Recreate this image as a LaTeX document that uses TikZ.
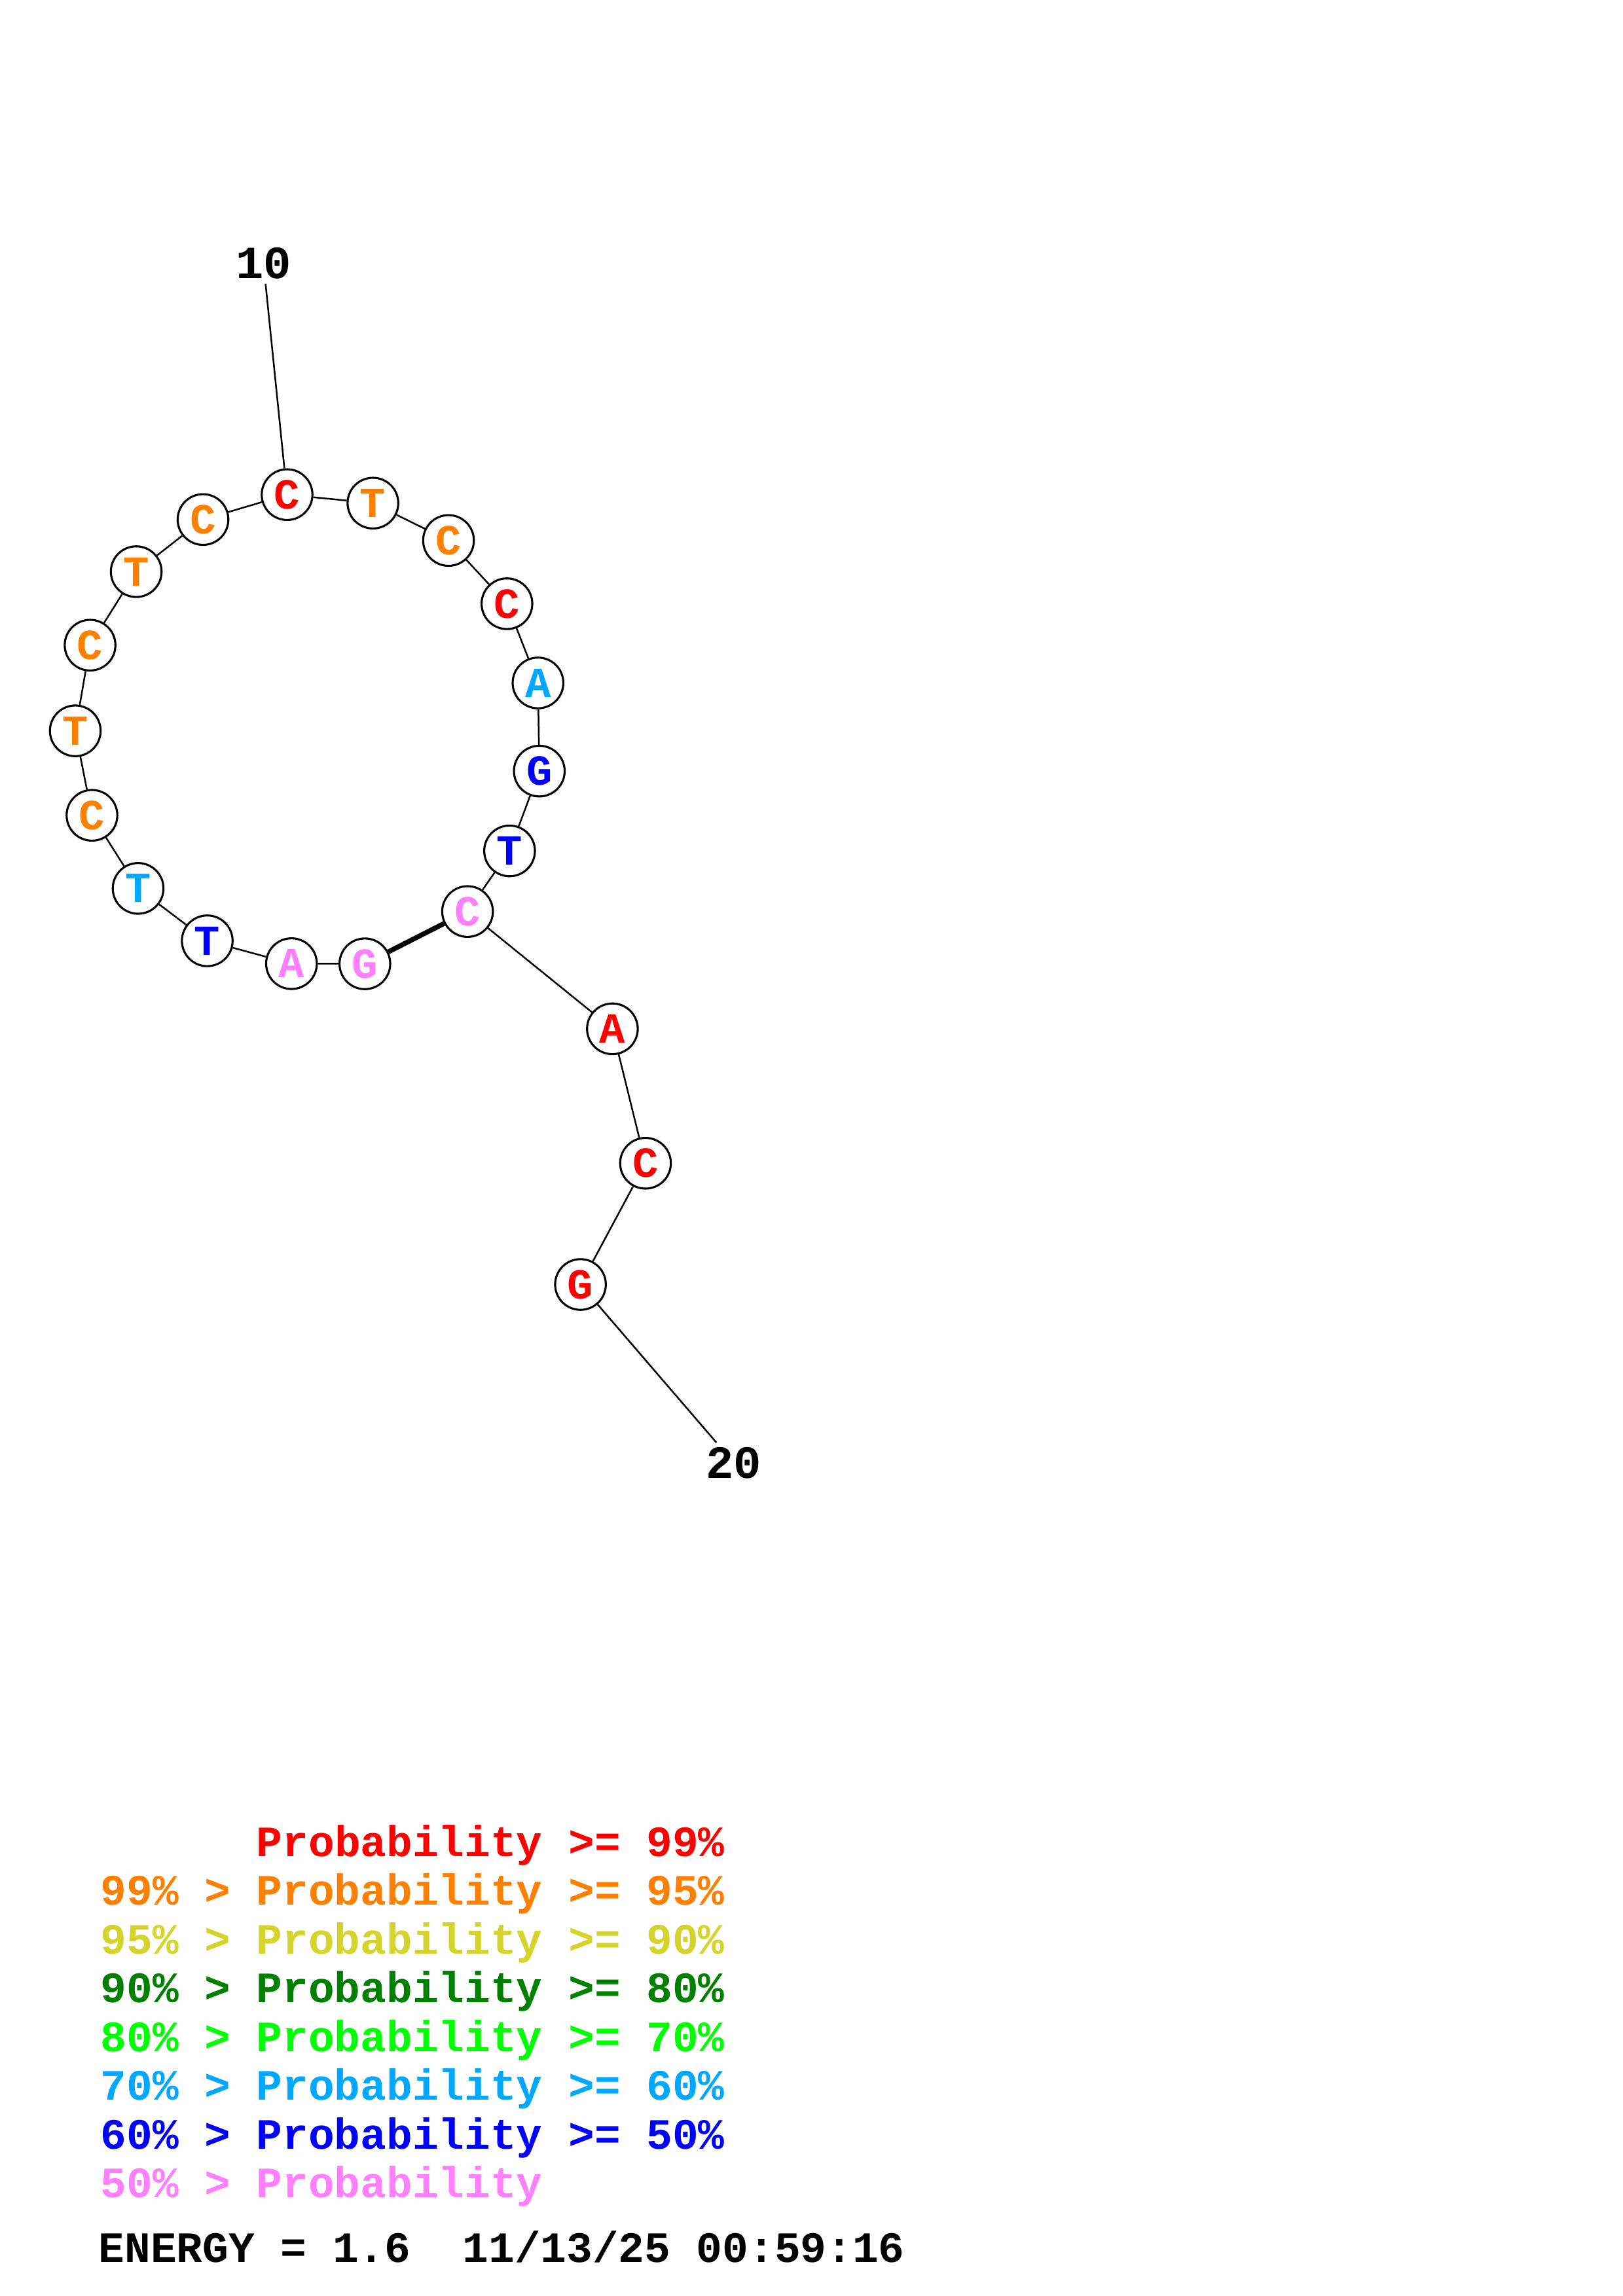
\documentclass[tikz,border=0pt]{standalone}
\usepackage{fontspec}
\setmonofont{Liberation Mono}
\usepackage{xcolor}
\usepackage{tikz}
\definecolor{PRed}{HTML}{FF0000}
\definecolor{POrange}{HTML}{FF8000}
\definecolor{PYellow}{HTML}{D4D42C}
\definecolor{PDkGreen}{HTML}{008000}
\definecolor{PGreen}{HTML}{00FF00}
\definecolor{PSky}{HTML}{00A8FF}
\definecolor{PBlue}{HTML}{0000FF}
\definecolor{PPink}{HTML}{FF80FF}
\begin{document}
\begin{tikzpicture}[x=0.018953cm, y=-0.018953cm,
  every node/.style={font=\ttfamily\bfseries\fontsize{15.8}{18}\selectfont},
  nt/.style={circle, draw=black, fill=white, line width=0.75pt,
             minimum size=0.656cm, inner sep=0pt},
  bone/.style={draw=black, line width=0.6pt},
  pair/.style={draw=black, line width=1.8pt},
  tick/.style={text=black, inner sep=1.5pt, font=\ttfamily\bfseries\fontsize{17}{19}\selectfont},
  legend/.style={anchor=base west, inner sep=0pt, font=\ttfamily\bfseries\fontsize{15.95}{18}\selectfont}]
\useasboundingbox (0,0) rectangle (1108,1568);
% bases, 5' to 3'
\node[nt, text=PPink]   (b1)  at (249.1,658.2) {G};
\node[nt, text=PPink]   (b2)  at (199.0,658.1) {A};
\node[nt, text=PBlue]   (b3)  at (141.5,642.5) {T};
\node[nt, text=PSky]    (b4)  at ( 94.3,606.7) {T};
\node[nt, text=POrange] (b5)  at ( 62.8,556.8) {C};
\node[nt, text=POrange] (b6)  at ( 51.4,499.1) {T};
\node[nt, text=POrange] (b7)  at ( 61.5,440.6) {C};
\node[nt, text=POrange] (b8)  at ( 93.0,390.4) {T};
\node[nt, text=POrange] (b9)  at (138.6,354.8) {C};
\node[nt, text=PRed]    (b10) at (196.0,337.8) {C};
\node[nt, text=POrange] (b11) at (254.6,343.6) {T};
\node[nt, text=POrange] (b12) at (306.2,369.1) {C};
\node[nt, text=PRed]    (b13) at (346.1,412.3) {C};
\node[nt, text=PSky]    (b14) at (367.3,466.4) {A};
\node[nt, text=PBlue]   (b15) at (368.2,526.6) {G};
\node[nt, text=PBlue]   (b16) at (347.9,581.1) {T};
\node[nt, text=PPink]   (b17) at (319.2,622.5) {C};
\node[nt, text=PRed]    (b18) at (418.1,702.6) {A};
\node[nt, text=PRed]    (b19) at (440.7,794.4) {C};
\node[nt, text=PRed]    (b20) at (396.3,877.2) {G};
% backbone and pair
\foreach \i [evaluate=\i as \j using int(\i+1)] in {1,...,19} {\draw[bone] (b\i) -- (b\j);}
\draw[pair] (b1) -- (b17);
% numbering
\node[tick] (t10) at (179.9,180.0) {10};
\node[tick] (t20) at (501.0,999.0) {20};
\draw[bone] (t10) -- (b10);
\draw[bone] (b20) -- (t20);
% legend
\node[legend, text=PRed]     (l1) at (68.3,1267.8) {\hphantom{99\% > }Probability >= 99\%};
\node[legend, text=POrange]  (l2) at (68.3,1301.1) {99\% > Probability >= 95\%};
\node[legend, text=PYellow]  (l3) at (68.3,1334.4) {95\% > Probability >= 90\%};
\node[legend, text=PDkGreen] (l4) at (68.3,1367.7) {90\% > Probability >= 80\%};
\node[legend, text=PGreen]   (l5) at (68.3,1401.0) {80\% > Probability >= 70\%};
\node[legend, text=PSky]     (l6) at (68.3,1434.3) {70\% > Probability >= 60\%};
\node[legend, text=PBlue]    (l7) at (68.3,1467.6) {60\% > Probability >= 50\%};
\node[legend, text=PPink]    (l8) at (68.3,1500.9) {50\% > Probability};
\node[legend, text=black]    (en) at (67.0,1545.0) {ENERGY = 1.6\ \ 11/13/25 00:59:16};
\end{tikzpicture}
\end{document}
